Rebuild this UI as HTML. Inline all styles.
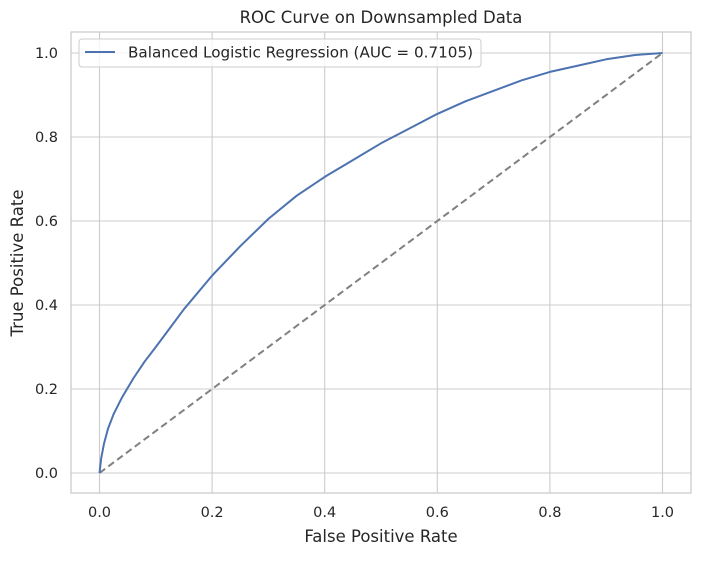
<!DOCTYPE html>
<html><head><meta charset="utf-8"><style>
body{margin:0;background:#fff;width:701px;height:556px;overflow:hidden}
svg text{font-family:"DejaVu Sans","Liberation Sans",sans-serif;fill:#262626}
</style></head><body>
<svg id="chart" width="701" height="556" xmlns="http://www.w3.org/2000/svg">
<text x="381" y="23" font-size="16.5" text-anchor="middle">ROC Curve on Downsampled Data</text>
<g id="grid"></g>
<rect x="71" y="32" width="620" height="461" fill="none" stroke="#cccccc" stroke-width="1.3"/>
<g id="marks"></g>
<text x="381" y="542" font-size="16.5" text-anchor="middle">False Positive Rate</text>
<text transform="translate(23,263) rotate(-90)" font-size="16.5" text-anchor="middle">True Positive Rate</text>
<g>
<rect x="79" y="39" width="402" height="28" rx="3" fill="#fff" fill-opacity="0.8" stroke="#cccccc"/>
<line x1="85" y1="52" x2="115" y2="52" stroke="#4c72b0" stroke-width="2"/>
<text x="128" y="57.5" font-size="15.2">Balanced Logistic Regression (AUC = 0.7105)</text>
</g>
</svg>
<script>
const fprValues=[0,0.003,0.008,0.015,0.025,0.04,0.06,0.08,0.1,0.125,0.15,0.2,0.25,0.3,0.35,0.4,0.45,0.5,0.55,0.6,0.65,0.7,0.75,0.8,0.85,0.9,0.95,1];
const tprValues=[0,0.035,0.07,0.105,0.14,0.18,0.225,0.265,0.3,0.345,0.39,0.47,0.54,0.605,0.66,0.705,0.745,0.785,0.82,0.855,0.885,0.91,0.935,0.955,0.97,0.985,0.995,1];
const xTicks=[0,0.2,0.4,0.6,0.8,1.0];
const yTicks=[0,0.2,0.4,0.6,0.8,1.0];
const NS="http://www.w3.org/2000/svg";
function sx(v){return 99.5+v*563;}
function sy(v){return 473-v*420;}
const grid=document.getElementById('grid'),marks=document.getElementById('marks');
xTicks.forEach(t=>{
 const l=document.createElementNS(NS,'line');
 
 
 l.setAttribute('x1',sx(t));l.setAttribute('x2',sx(t));l.setAttribute('y1',32);l.setAttribute('y2',493);
 l.setAttribute('stroke','#cccccc');l.setAttribute('stroke-width','1.1');grid.appendChild(l);
 const tx=document.createElementNS(NS,'text');
 
 
 tx.setAttribute('x',sx(t));tx.setAttribute('y',517);tx.setAttribute('font-size','14.5');tx.setAttribute('text-anchor','middle');
 tx.textContent=t.toFixed(1);grid.appendChild(tx);
});
yTicks.forEach(t=>{
 const l=document.createElementNS(NS,'line');
 
 
 l.setAttribute('x1',71);l.setAttribute('x2',691);l.setAttribute('y1',sy(t));l.setAttribute('y2',sy(t));
 l.setAttribute('stroke','#cccccc');l.setAttribute('stroke-width','1.1');grid.appendChild(l);
 const tx=document.createElementNS(NS,'text');
 
 
 tx.setAttribute('x',58);tx.setAttribute('y',sy(t)+5);tx.setAttribute('font-size','14.5');tx.setAttribute('text-anchor','end');
 tx.textContent=t.toFixed(1);grid.appendChild(tx);
});
const d=document.createElementNS(NS,'line');


d.setAttribute('x1',sx(0));d.setAttribute('y1',sy(0));d.setAttribute('x2',sx(1));d.setAttribute('y2',sy(1));
d.setAttribute('stroke','#808080');d.setAttribute('stroke-width','2');d.setAttribute('stroke-dasharray','7,4');
marks.appendChild(d);
const p=document.createElementNS(NS,'polyline');


p.setAttribute('points',fprValues.map((x,i)=>sx(x)+','+sy(tprValues[i])).join(' '));
p.setAttribute('fill','none');p.setAttribute('stroke','#4c72b0');p.setAttribute('stroke-width','2');p.setAttribute('stroke-linejoin','round');
marks.appendChild(p);
</script>
</body></html>
